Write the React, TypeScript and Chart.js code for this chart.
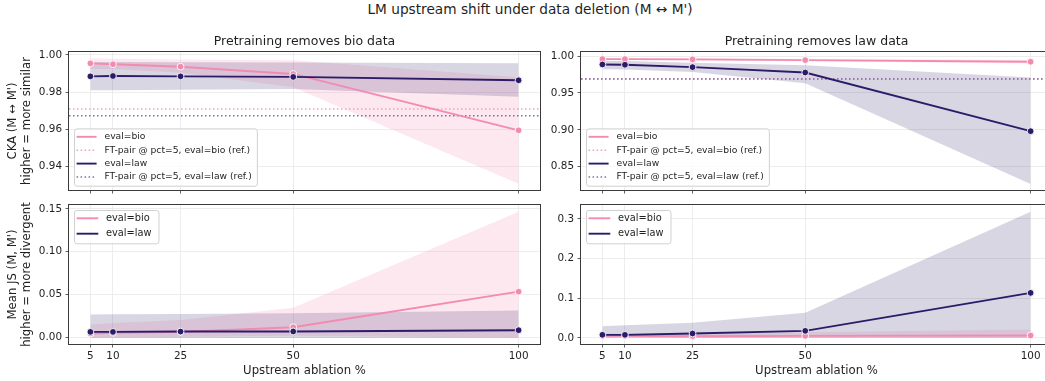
import React, { useEffect, useRef } from 'react';
import { Chart, registerables } from 'chart.js';

Chart.register(...registerables);

// ---- data -------------------------------------------------------------
const ablationPct = [5, 10, 25, 50, 100];
const xTicks = [5, 10, 25, 50, 100];
const X_MIN = 0.25;
const X_MAX = 104.75;

// CKA, pretraining removes bio data
const ckaBioRemovedEvalBio = [0.9955, 0.995, 0.9937, 0.9898, 0.9595];
const ckaBioRemovedEvalBioLo = [0.9925, 0.9925, 0.9905, 0.9826, 0.9307];
const ckaBioRemovedEvalBioHi = [0.9982, 0.998, 0.9976, 0.9972, 0.988];
const ckaBioRemovedEvalLaw = [0.9885, 0.9887, 0.9885, 0.9882, 0.9864];
const ckaBioRemovedEvalLawLo = [0.981, 0.981, 0.9813, 0.9817, 0.9776];
const ckaBioRemovedEvalLawHi = [0.9962, 0.9962, 0.9961, 0.996, 0.9955];
const ckaBioRemovedRefBio = 0.9709;
const ckaBioRemovedRefLaw = 0.9673;

// CKA, pretraining removes law data
const ckaLawRemovedEvalBio = [0.9959, 0.9959, 0.9955, 0.9945, 0.9923];
const ckaLawRemovedEvalBioLo = [0.9945, 0.9945, 0.9941, 0.993, 0.99];
const ckaLawRemovedEvalBioHi = [0.9972, 0.9972, 0.9969, 0.996, 0.9948];
const ckaLawRemovedEvalLaw = [0.9886, 0.9882, 0.985, 0.9777, 0.8982];
const ckaLawRemovedEvalLawLo = [0.982, 0.9818, 0.9785, 0.963, 0.8265];
const ckaLawRemovedEvalLawHi = [0.9935, 0.9932, 0.991, 0.9875, 0.971];
const ckaLawRemovedRefBio = 0.9692;
const ckaLawRemovedRefLaw = 0.969;

// Mean JS, pretraining removes bio data
const jsBioRemovedEvalBio = [0.0047, 0.0055, 0.0066, 0.0121, 0.0535];
const jsBioRemovedEvalBioLo = [0.0, 0.0005, 0.001, 0.002, 0.0];
const jsBioRemovedEvalBioHi = [0.0152, 0.017, 0.0205, 0.0348, 0.1465];
const jsBioRemovedEvalLaw = [0.0066, 0.0066, 0.007, 0.0071, 0.0086];
const jsBioRemovedEvalLawLo = [-0.0005, -0.0005, -0.0005, -0.0005, -0.0005];
const jsBioRemovedEvalLawHi = [0.027, 0.0272, 0.0276, 0.0283, 0.0315];

// Mean JS, pretraining removes law data
const jsLawRemovedEvalBio = [0.005, 0.005, 0.0042, 0.005, 0.006];
const jsLawRemovedEvalBioLo = [0.0, 0.0, 0.0, 0.0, 0.0];
const jsLawRemovedEvalBioHi = [0.011, 0.0112, 0.012, 0.014, 0.021];
const jsLawRemovedEvalLaw = [0.0076, 0.0076, 0.011, 0.0176, 0.1134];
const jsLawRemovedEvalLawLo = [0.0, 0.0, 0.0, 0.0, 0.0];
const jsLawRemovedEvalLawHi = [0.029, 0.0315, 0.038, 0.063, 0.318];

// y tick values
const ckaBioTicks = [0.94, 0.96, 0.98, 1.0];
const ckaLawTicks = [0.85, 0.9, 0.95, 1.0];
const jsBioTicks = [0.0, 0.05, 0.1, 0.15];
const jsLawTicks = [0.0, 0.1, 0.2, 0.3];

// ---- styling ----------------------------------------------------------
const FONT = '"DejaVu Sans", "Liberation Sans", sans-serif';
const W = 1060;
const H = 381;
const TEXT = '#1f1f1f';
const GRID = '#e8e8e8';
const SPINE = '#3a3a3a';
const BIO = '#f38bb0';
const LAW = '#2c1c68';
const BIO_BAND = 'rgba(243,139,176,0.2)';
const LAW_BAND = 'rgba(44,28,104,0.18)';
const BIO_REF = '#f59dbd';
const LAW_REF = '#7a6cb0';

type PanelSpec = {
  title?: string;
  area: { left: number; top: number; right: number; bottom: number };
  yMin: number;
  yMax: number;
  yTicks: number[];
  decimals: number;
  yTitle?: string[];
  showX: boolean;
  bio: number[];
  bioLo: number[];
  bioHi: number[];
  law: number[];
  lawLo: number[];
  lawHi: number[];
  refBio?: number;
  refLaw?: number;
  legend: 'lower' | 'upper';
};

const panels: PanelSpec[] = [
  {
    title: 'Pretraining removes bio data',
    area: { left: 69, top: 52, right: 540, bottom: 190 },
    yMin: 0.9274, yMax: 1.0016, yTicks: ckaBioTicks, decimals: 2,
    yTitle: ["CKA (M \u2194 M')", 'higher = more similar'],
    showX: false,
    bio: ckaBioRemovedEvalBio, bioLo: ckaBioRemovedEvalBioLo, bioHi: ckaBioRemovedEvalBioHi,
    law: ckaBioRemovedEvalLaw, lawLo: ckaBioRemovedEvalLawLo, lawHi: ckaBioRemovedEvalLawHi,
    refBio: ckaBioRemovedRefBio, refLaw: ckaBioRemovedRefLaw,
    legend: 'lower',
  },
  {
    title: 'Pretraining removes law data',
    area: { left: 581, top: 52, right: 1052, bottom: 190 },
    yMin: 0.8185, yMax: 1.0055, yTicks: ckaLawTicks, decimals: 2,
    showX: false,
    bio: ckaLawRemovedEvalBio, bioLo: ckaLawRemovedEvalBioLo, bioHi: ckaLawRemovedEvalBioHi,
    law: ckaLawRemovedEvalLaw, lawLo: ckaLawRemovedEvalLawLo, lawHi: ckaLawRemovedEvalLawHi,
    refBio: ckaLawRemovedRefBio, refLaw: ckaLawRemovedRefLaw,
    legend: 'lower',
  },
  {
    area: { left: 69, top: 205, right: 540, bottom: 344 },
    yMin: -0.0075, yMax: 0.1545, yTicks: jsBioTicks, decimals: 2,
    yTitle: ["Mean JS (M, M')", 'higher = more divergent'],
    showX: true,
    bio: jsBioRemovedEvalBio, bioLo: jsBioRemovedEvalBioLo, bioHi: jsBioRemovedEvalBioHi,
    law: jsBioRemovedEvalLaw, lawLo: jsBioRemovedEvalLawLo, lawHi: jsBioRemovedEvalLawHi,
    legend: 'upper',
  },
  {
    area: { left: 581, top: 205, right: 1052, bottom: 344 },
    yMin: -0.0155, yMax: 0.335, yTicks: jsLawTicks, decimals: 1,
    showX: true,
    bio: jsLawRemovedEvalBio, bioLo: jsLawRemovedEvalBioLo, bioHi: jsLawRemovedEvalBioHi,
    law: jsLawRemovedEvalLaw, lawLo: jsLawRemovedEvalLawLo, lawHi: jsLawRemovedEvalLawHi,
    legend: 'upper',
  },
];

// Frame, subplot title and boxed legend drawn on top of the plot area.
const decorPlugin = {
  id: 'panelDecor',
  afterDatasetsDraw(chart: any) {
    const { ctx, chartArea } = chart;
    const l = Math.round(chartArea.left);
    const t = Math.round(chartArea.top);
    const r = Math.round(chartArea.right);
    const b = Math.round(chartArea.bottom);
    ctx.save();
    ctx.strokeStyle = SPINE;
    ctx.lineWidth = 1;
    ctx.strokeRect(l - 0.5, t - 0.5, r - l + 1, b - t + 1);
    ctx.restore();
  },
  afterDraw(chart: any, _args: any, opts: any) {
    const { ctx, chartArea } = chart;
    ctx.save();
    if (opts.title) {
      ctx.font = `12.5px ${FONT}`;
      ctx.fillStyle = TEXT;
      ctx.textAlign = 'center';
      ctx.textBaseline = 'middle';
      ctx.fillText(opts.title, (chartArea.left + chartArea.right) / 2, chartArea.top - 10);
    }
    const items = chart.data.datasets.filter((d: any) => d.label);
    const lower = opts.legend === 'lower';
    const fs = lower ? 9.2 : 9.8;
    const pitch = lower ? 13.4 : 15.4;
    const padTop = lower ? 8.4 : 8.3;
    const padBottom = lower ? 8.7 : 9.6;
    const handleEnd = lower ? 22.6 : 24.3;
    const textX = lower ? 30.5 : 32;
    const padRight = lower ? 5 : 7;
    ctx.font = `${fs}px ${FONT}`;
    const textW = Math.max(...items.map((d: any) => ctx.measureText(d.label).width));
    const w = textX + textW + padRight;
    const h = padTop + pitch * (items.length - 1) + padBottom;
    const x = chartArea.left + 5;
    const y = lower ? chartArea.bottom - 4.3 - h : chartArea.top + 5;
    ctx.beginPath();
    ctx.roundRect(x + 0.5, y + 0.5, w, h, 2.5);
    ctx.fillStyle = 'rgba(255,255,255,0.8)';
    ctx.fill();
    ctx.strokeStyle = '#d0d0d0';
    ctx.lineWidth = 1;
    ctx.stroke();
    items.forEach((d: any, i: number) => {
      const cy = y + padTop + i * pitch;
      ctx.beginPath();
      ctx.setLineDash(d.borderDash || []);
      ctx.strokeStyle = d.borderColor;
      ctx.lineWidth = d.borderWidth;
      ctx.moveTo(x + 2.6, cy);
      ctx.lineTo(x + handleEnd, cy);
      ctx.stroke();
      ctx.setLineDash([]);
      ctx.fillStyle = TEXT;
      ctx.textAlign = 'left';
      ctx.textBaseline = 'middle';
      ctx.fillText(d.label, x + textX, cy);
    });
    ctx.restore();
  },
};

function buildConfig(p: PanelSpec): any {
  const pts = (ys: number[]) => ablationPct.map((x, i) => ({ x, y: ys[i] }));
  const refPts = (y: number) => [{ x: X_MIN, y }, { x: X_MAX, y }];
  const meanLine = (label: string, color: string, ys: number[], order: number) => ({
    label, data: pts(ys), borderColor: color, backgroundColor: color, borderWidth: 1.9,
    pointRadius: 3.4, pointBackgroundColor: color, pointBorderColor: '#ffffff',
    pointBorderWidth: 0.9, tension: 0, fill: false, order,
  });
  const refLine = (label: string, color: string, y: number, order: number) => ({
    label, data: refPts(y), borderColor: color, borderWidth: 1.5, borderDash: [1.5, 2.5],
    pointRadius: 0, fill: false, order,
  });
  const bandLo = (ys: number[], order: number) => ({
    label: '', data: pts(ys), borderColor: 'rgba(0,0,0,0)', borderWidth: 0,
    pointRadius: 0, fill: false, order,
  });
  const bandHi = (ys: number[], color: string, order: number) => ({
    label: '', data: pts(ys), borderColor: 'rgba(0,0,0,0)', borderWidth: 0,
    pointRadius: 0, fill: '-1', backgroundColor: color, order,
  });

  const datasets: any[] = [meanLine('eval=bio', BIO, p.bio, 1)];
  if (p.refBio !== undefined) datasets.push(refLine('FT-pair @ pct=5, eval=bio (ref.)', BIO_REF, p.refBio, 3));
  datasets.push(meanLine('eval=law', LAW, p.law, 0));
  if (p.refLaw !== undefined) datasets.push(refLine('FT-pair @ pct=5, eval=law (ref.)', LAW_REF, p.refLaw, 2));
  datasets.push(bandLo(p.bioLo, 5), bandHi(p.bioHi, BIO_BAND, 5));
  datasets.push(bandLo(p.lawLo, 4), bandHi(p.lawHi, LAW_BAND, 4));

  const isLeft = p.area.left < 300;
  const yWidth = isLeft ? p.area.left : 40;
  const xHeight = p.showX ? H - p.area.bottom : 4;

  return {
    type: 'line',
    data: { datasets },
    plugins: [decorPlugin],
    options: {
      animation: false,
      responsive: false,
      devicePixelRatio: 1,
      events: [],
      layout: {
        padding: {
          left: p.area.left - yWidth,
          right: W - p.area.right,
          top: p.area.top,
          bottom: H - p.area.bottom - xHeight,
        },
      },
      plugins: {
        legend: { display: false },
        tooltip: { enabled: false },
        title: { display: false },
        panelDecor: { title: p.title, legend: p.legend },
      },
      scales: {
        x: {
          type: 'linear',
          min: X_MIN,
          max: X_MAX,
          afterBuildTicks: (s: any) => { s.ticks = xTicks.map((v) => ({ value: v })); },
          afterFit: (s: any) => { s.height = xHeight; s.paddingLeft = 0; s.paddingRight = 0; },
          ticks: {
            display: p.showX, autoSkip: false, maxRotation: 0, padding: 2.5,
            color: TEXT, font: { family: FONT, size: 10.4 },
            callback: (v: any) => String(v),
          },
          grid: { color: GRID, lineWidth: 0.8, drawTicks: true, tickLength: 3.5, tickColor: SPINE, tickWidth: 0.8 },
          border: { display: false },
          title: {
            display: p.showX, text: 'Upstream ablation %', color: TEXT,
            font: { family: FONT, size: 11.7 }, padding: { top: 0, bottom: 3.5 },
          },
        },
        y: {
          type: 'linear',
          min: p.yMin,
          max: p.yMax,
          afterBuildTicks: (s: any) => { s.ticks = p.yTicks.map((v) => ({ value: v })); },
          afterFit: (s: any) => { s.width = yWidth; s.paddingTop = 0; s.paddingBottom = 0; },
          ticks: {
            padding: 3.5, color: TEXT, font: { family: FONT, size: 10.4 },
            callback: (v: any) => Number(v).toFixed(p.decimals),
          },
          grid: { color: GRID, lineWidth: 0.8, drawTicks: true, tickLength: 3.5, tickColor: SPINE, tickWidth: 0.8 },
          border: { display: false },
          title: {
            display: !!p.yTitle, text: p.yTitle || '', color: TEXT,
            font: { family: FONT, size: 11.7 }, padding: { top: 6, bottom: 0 },
          },
        },
      },
    },
  };
}

function Panel({ spec }: { spec: PanelSpec }) {
  const ref = useRef<HTMLCanvasElement>(null);
  useEffect(() => {
    if (!ref.current) return;
    const chart = new Chart(ref.current, buildConfig(spec));
    return () => chart.destroy();
  }, [spec]);
  return (
    <canvas
      ref={ref}
      width={W}
      height={H}
      style={{ position: 'absolute', left: 0, top: 0, width: W, height: H }}
    />
  );
}

export default function App() {
  return (
    <div
      style={{
        position: 'fixed', left: 0, top: 0, width: 1045, height: 381,
        overflow: 'hidden', background: '#ffffff',
      }}
    >
      <div
        style={{
          position: 'absolute', left: 0, top: 0, width: W, height: 18, lineHeight: '18px',
          textAlign: 'center', fontFamily: FONT, fontSize: 13.7, color: TEXT,
        }}
      >
        LM upstream shift under data deletion (M {'\u2194'} M')
      </div>
      {panels.map((p, i) => (
        <Panel key={i} spec={p} />
      ))}
    </div>
  );
}
